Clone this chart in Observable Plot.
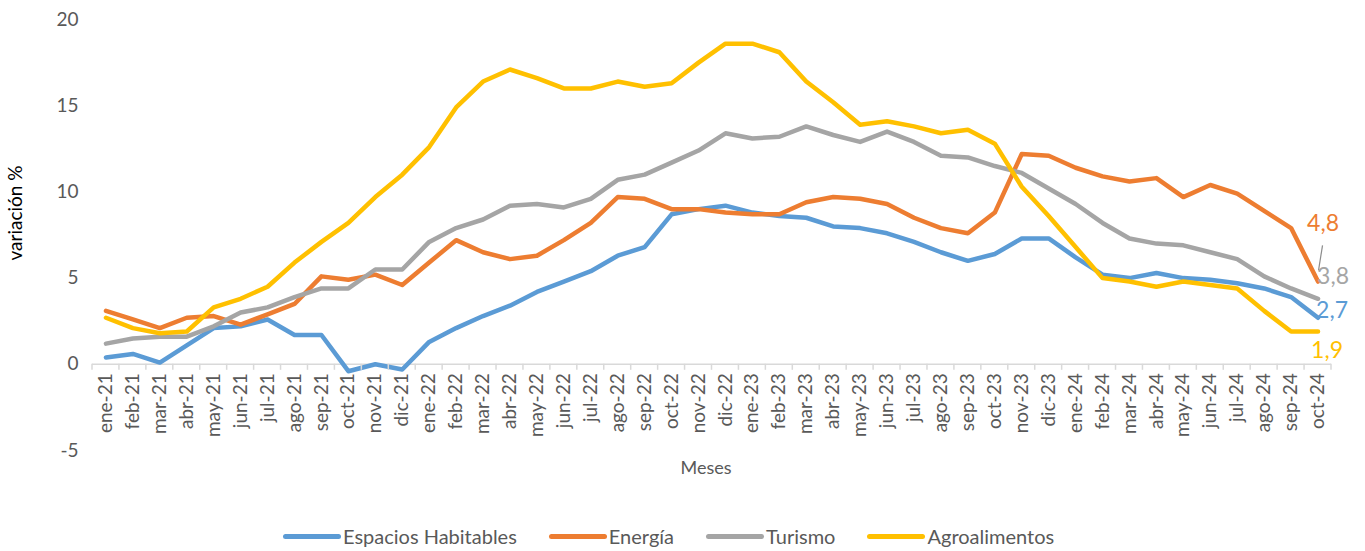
<!DOCTYPE html>
<html>
<head>
<meta charset="utf-8">
<script src="https://cdn.jsdelivr.net/npm/d3@7"></script>
<script src="https://cdn.jsdelivr.net/npm/@observablehq/plot@0.6"></script>
<style>
  html, body { margin: 0; padding: 0; background: #fff; }
  body { width: 1365px; height: 551px; overflow: hidden; font-family: Lato, "Liberation Sans", sans-serif; }
  #legend { display: flex; align-items: center; padding-left: 283px; padding-top: 26px; height: 20px; color: #595959; font-size: 20px; }
  .item { display: flex; align-items: center; margin-right: 32px; }
  .sw { width: 58px; height: 5px; border-radius: 3px; margin-right: 2px; }
</style>
</head>
<body>
<div id="chart"></div>
<div id="legend"></div>
<script>
const months = ["ene-21","feb-21","mar-21","abr-21","may-21","jun-21","jul-21","ago-21","sep-21","oct-21","nov-21","dic-21",
  "ene-22","feb-22","mar-22","abr-22","may-22","jun-22","jul-22","ago-22","sep-22","oct-22","nov-22","dic-22",
  "ene-23","feb-23","mar-23","abr-23","may-23","jun-23","jul-23","ago-23","sep-23","oct-23","nov-23","dic-23",
  "ene-24","feb-24","mar-24","abr-24","may-24","jun-24","jul-24","ago-24","sep-24","oct-24"];

const seriesNames = ["Espacios Habitables", "Energía", "Turismo", "Agroalimentos"];
const seriesColors = ["#5B9BD5", "#ED7D31", "#A5A5A5", "#FFC000"];

const habitables = [0.4,0.6,0.1,1.1,2.1,2.2,2.6,1.7,1.7,-0.4, 0.0,-0.3,1.3,2.1,2.8,3.4,4.2,4.8,5.4,6.3,
  6.8,8.7,9.0,9.2,8.8,8.6,8.5,8.0,7.9,7.6, 7.1,6.5,6.0,6.4,7.3,7.3,6.2,5.2,5.0,5.3, 5.0,4.9,4.7,4.4,3.9,2.7];
const energia = [3.1,2.6,2.1,2.7,2.8,2.3,2.9,3.5,5.1,4.9, 5.2,4.6,5.9,7.2,6.5,6.1,6.3,7.2,8.2,9.7,
  9.6,9.0,9.0,8.8,8.7,8.7,9.4,9.7,9.6,9.3, 8.5,7.9,7.6,8.8,12.2,12.1,11.4,10.9,10.6,10.8, 9.7,10.4,9.9,8.9,7.9,4.8];
const turismo = [1.2,1.5,1.6,1.6,2.2,3.0,3.3,3.9,4.4,4.4, 5.5,5.5,7.1,7.9,8.4,9.2,9.3,9.1,9.6,10.7,
  11.0,11.7,12.4,13.4,13.1,13.2,13.8,13.3,12.9,13.5, 12.9,12.1,12.0,11.5,11.1,10.2,9.3,8.2,7.3,7.0, 6.9,6.5,6.1,5.1,4.4,3.8];
const agro = [2.7,2.1,1.8,1.9,3.3,3.8,4.5,5.9,7.1,8.2, 9.7,11.0,12.6,14.9,16.4,17.1,16.6,16.0,16.0,16.4,
  16.1,16.3,17.5,18.6,18.6,18.1,16.4,15.2,13.9,14.1, 13.8,13.4,13.6,12.8,10.3,8.6,6.8,5.0,4.8,4.5, 4.8,4.6,4.4,3.1,1.9,1.9];

const yTicks = [-5, 0, 5, 10, 15, 20];

const allValues = [habitables, energia, turismo, agro];
const data = seriesNames.flatMap((name, s) => months.map((m, i) => ({serie: name, month: m, value: allValues[s][i]})));
const lastPoints = seriesNames.map((name, s) => ({serie: name, month: months[months.length - 1], value: allValues[s][months.length - 1]}));

// label offsets (pixels) for end labels, per series
const labelOffsets = [{dx: 14, dy: -7}, {dx: 5, dy: -58}, {dx: 15, dy: -22}, {dx: 9, dy: 19}];

const FONT = "Lato, 'Liberation Sans', sans-serif";
const W = 1365, H = 500;

const chart = Plot.plot({
  width: W, height: H,
  marginLeft: 92, marginRight: 34, marginTop: 19, marginBottom: 50,
  style: {fontFamily: FONT, fontSize: "19px", color: "#595959", background: "#fff", overflow: "visible"},
  x: {type: "point", domain: months, padding: 0.5, axis: null},
  y: {domain: [-5, 20], ticks: yTicks, tickSize: 0, tickPadding: 14, label: null, tickFormat: d => String(d)},
  color: {domain: seriesNames, range: seriesColors},
  marks: [
    Plot.ruleY([0], {stroke: "#d9d9d9", strokeWidth: 1.5}),
    Plot.line(data, {x: "month", y: "value", z: "serie", stroke: "serie", strokeWidth: 4.5, strokeLinejoin: "round", strokeLinecap: "round"}),
    Plot.text(months, {x: d => d, y: () => 0, rotate: -90, textAnchor: "end", dy: 9, fill: "#595959", fontSize: 19}),
    Plot.text(["Meses"], {frameAnchor: "bottom", textAnchor: "middle", dy: 23, dx: -6, fill: "#595959", fontSize: 18}),
    Plot.text(["variación %"], {frameAnchor: "left", textAnchor: "middle", rotate: -90, dx: -77, dy: -22, fill: "#000", fontSize: 19}),
    ...lastPoints.map((p, s) => Plot.text([p], {
      x: "month", y: "value", text: d => String(d.value).replace(".", ","),
      fill: seriesColors[s], fontSize: 23, dx: labelOffsets[s].dx, dy: labelOffsets[s].dy
    }))
  ]
});

const xs = chart.scale("x"), ys = chart.scale("y");
const step = xs.apply(months[1]) - xs.apply(months[0]);
const edges = months.map(m => xs.apply(m) - step / 2).concat([xs.apply(months[months.length - 1]) + step / 2]);
const y0 = ys.apply(0);
const svg = d3.select(chart);
// category tick marks between months on the zero line, derived from the x scale
svg.append("g").attr("stroke", "#d9d9d9").attr("stroke-width", 1.5)
  .selectAll("line").data(edges).join("line")
  .attr("x1", d => d).attr("x2", d => d).attr("y1", y0).attr("y2", y0 + 6);

// thin leader line of the Turismo end label, positioned from the scales
const gray = lastPoints[2];
const gx = xs.apply(gray.month), gy = ys.apply(gray.value);
svg.append("line").attr("stroke", "#8c8c8c").attr("stroke-width", 1.2)
  .attr("x1", gx + 5).attr("y1", gy - 53).attr("x2", gx + 1).attr("y2", gy - 28);

document.getElementById("chart").appendChild(chart);

const legend = document.getElementById("legend");
seriesNames.forEach((name, i) => {
  const item = document.createElement("div");
  item.className = "item";
  const sw = document.createElement("span");
  sw.className = "sw";
  sw.style.background = seriesColors[i];
  const t = document.createElement("span");
  t.textContent = name;
  item.appendChild(sw); item.appendChild(t);
  legend.appendChild(item);
});
</script>
</body>
</html>
